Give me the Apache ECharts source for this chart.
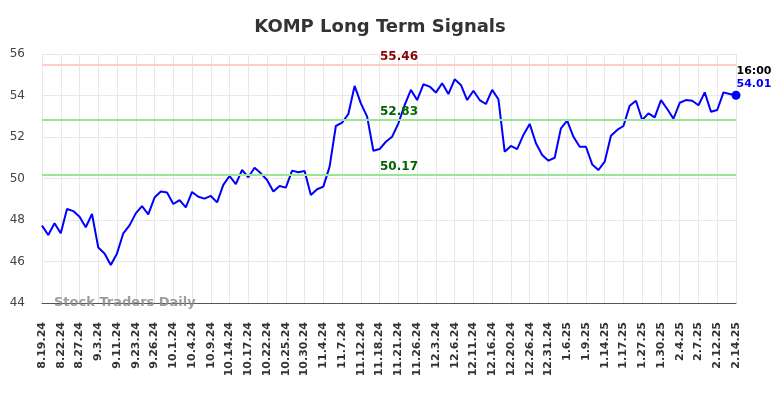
<!DOCTYPE html>
<html>
<head>
<meta charset="utf-8">
<title>KOMP Long Term Signals</title>
<script src="https://cdn.jsdelivr.net/npm/echarts@6/dist/echarts.min.js"></script>
<style>
  html, body { margin: 0; padding: 0; background: #fff; }
  #chart { width: 784px; height: 398px; }
</style>
</head>
<body>
<div id="chart"></div>
<script>
// Etiquetas del eje x (una cada 3 sesiones, más la última)
const tickLabels = [
  '8.19.24', '8.22.24', '8.27.24', '9.3.24', '9.11.24', '9.23.24', '9.26.24',
  '10.1.24', '10.4.24', '10.9.24', '10.14.24', '10.17.24', '10.22.24', '10.25.24',
  '10.30.24', '11.4.24', '11.7.24', '11.12.24', '11.18.24', '11.21.24', '11.26.24',
  '12.3.24', '12.6.24', '12.11.24', '12.16.24', '12.20.24', '12.26.24', '12.31.24',
  '1.6.25', '1.9.25', '1.14.25', '1.17.25', '1.27.25', '1.30.25', '2.4.25',
  '2.7.25', '2.12.25', '2.14.25'
];

// Precio de cierre por sesión
const prices = [
  47.73, 47.28, 47.84, 47.36, 48.53, 48.43, 48.16, 47.65, 48.29, 46.67,
  46.39, 45.83, 46.39, 47.36, 47.74, 48.32, 48.67, 48.27, 49.08, 49.37,
  49.33, 48.77, 48.96, 48.61, 49.35, 49.12, 49.03, 49.16, 48.85, 49.69,
  50.12, 49.73, 50.41, 50.06, 50.52, 50.25, 49.93, 49.37, 49.64, 49.56,
  50.38, 50.30, 50.36, 49.20, 49.48, 49.61, 50.57, 52.53, 52.69, 53.11,
  54.46, 53.62, 52.98, 51.34, 51.42, 51.77, 52.01, 52.66, 53.54, 54.27,
  53.78, 54.54, 54.43, 54.14, 54.59, 54.07, 54.78, 54.51, 53.78, 54.23,
  53.78, 53.59, 54.27, 53.82, 51.29, 51.57, 51.42, 52.10, 52.63, 51.70,
  51.13, 50.86, 51.00, 52.42, 52.79, 52.01, 51.53, 51.53, 50.68, 50.41,
  50.81, 52.06, 52.34, 52.53, 53.51, 53.75, 52.82, 53.14, 52.95, 53.78,
  53.35, 52.88, 53.65, 53.78, 53.75, 53.53, 54.15, 53.22, 53.30, 54.15,
  54.07, 54.01
];

// Niveles de señal
const resistanceLevels = [55.46];
const supportLevels = [52.83, 50.17];
const lastTime = '16:00';

const yTicks = { min: 44, max: 56, step: 2 };

const font = 'DejaVu Sans';
const lastIndex = prices.length - 1;

// Categorías: etiqueta cada 3 puntos y en el último
const categories = prices.map((p, i) => {
  if (i === lastIndex) return tickLabels[tickLabels.length - 1];
  return i % 3 === 0 ? tickLabels[i / 3] : '';
});

const showTick = (i) => i % 3 === 0 || i === lastIndex;

const levelLine = (value, lineColor, textColor) => ({
  yAxis: value,
  lineStyle: { color: lineColor, width: 2, type: 'solid' },
  label: {
    show: true,
    position: 'insideMiddleTop',
    distance: 2,
    padding: [0, 0, 0, 20],
    formatter: value.toFixed(2),
    color: textColor,
    fontFamily: font,
    fontWeight: 'bold',
    fontSize: 12
  }
});

const chart = echarts.init(document.getElementById('chart'), null, { renderer: 'canvas' });

chart.setOption({
  animation: false,
  backgroundColor: '#fff',
  title: {
    text: 'KOMP Long Term Signals',
    left: 375,
    top: 13,
    textAlign: 'center',
    textStyle: { fontFamily: font, fontSize: 18, fontWeight: 'bold', color: '#333' }
  },
  grid: { left: 42, right: 48, top: 54, bottom: 95 },
  xAxis: {
    type: 'category',
    data: categories,
    boundaryGap: false,
    axisLine: { show: true, lineStyle: { color: '#555', width: 1 } },
    axisTick: { show: false },
    axisLabel: {
      interval: 0,
      rotate: 90,
      margin: 19,
      fontFamily: font,
      fontWeight: 'bold',
      fontSize: 11,
      color: '#333'
    },
    splitLine: { show: true, interval: (i) => showTick(i), lineStyle: { color: '#e8e8e8', width: 1 } }
  },
  yAxis: {
    type: 'value',
    min: yTicks.min,
    max: yTicks.max,
    interval: yTicks.step,
    axisLine: { show: false },
    axisTick: { show: false },
    axisLabel: { margin: 17, fontFamily: font, fontSize: 12, color: '#444' },
    splitLine: { show: true, lineStyle: { color: '#e8e8e8', width: 1 } }
  },
  graphic: [
    {
      type: 'text',
      left: 54,
      top: 296,
      z: 100,
      style: {
        text: 'Stock Traders Daily',
        font: 'bold 13px "DejaVu Sans"',
        fill: 'rgba(140,140,140,0.85)'
      }
    }
  ],
  series: [
    {
      type: 'line',
      data: prices,
      symbol: 'none',
      lineStyle: { color: '#0000ff', width: 2 },
      markLine: {
        silent: true,
        symbol: ['none', 'none'],
        data: [
          ...resistanceLevels.map((v) => levelLine(v, '#ffcccc', '#8b0000')),
          ...supportLevels.map((v) => levelLine(v, '#99e699', '#006400'))
        ]
      },
      markPoint: {
        silent: true,
        symbol: 'circle',
        symbolSize: 9,
        itemStyle: { color: '#0000ff' },
        data: [
          {
            coord: [lastIndex, prices[lastIndex]],
            label: {
              show: true,
              position: [5, -26],
              align: 'left',
              verticalAlign: 'top',
              formatter: '{t|' + lastTime + '}\n{v|' + prices[lastIndex].toFixed(2) + '}',
              rich: {
                t: { fontFamily: font, fontWeight: 'bold', fontSize: 11, color: '#000', lineHeight: 13 },
                v: { fontFamily: font, fontWeight: 'bold', fontSize: 11, color: '#0000ff', lineHeight: 13 }
              }
            }
          }
        ]
      }
    }
  ]
});

window.addEventListener('resize', () => {
  chart.resize();
});
</script>
</body>
</html>
